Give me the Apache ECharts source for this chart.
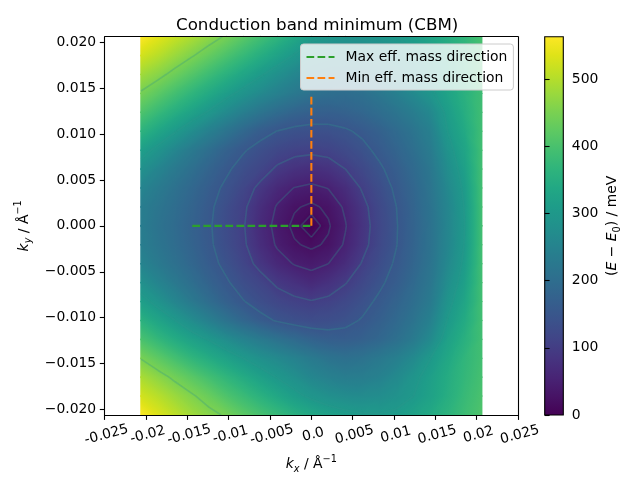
<!DOCTYPE html>
<html>
<head>
<meta charset="utf-8">
<script src="https://cdn.jsdelivr.net/npm/echarts@6.0.0/dist/echarts.min.js"></script>
<style>
html,body{margin:0;padding:0;background:#ffffff;}
#chart{width:640px;height:480px;}
</style>
</head>
<body>
<div id="chart"></div>
<script>
// ---------------- data ----------------
const kx = [-0.0206, -0.01854, -0.01648, -0.01442, -0.01236, -0.0103, -0.00824, -0.00618, -0.00412, -0.00206, 0,
            0.00206, 0.00412, 0.00618, 0.00824, 0.0103, 0.01236, 0.01442, 0.01648, 0.01854, 0.0206];
// rows from top (ky = +0.0206) to bottom (ky = -0.0206)
const ky = [0.0206, 0.01854, 0.01648, 0.01442, 0.01236, 0.0103, 0.00824, 0.00618, 0.00412, 0.00206, 0,
            -0.00206, -0.00412, -0.00618, -0.00824, -0.0103, -0.01236, -0.01442, -0.01648, -0.01854, -0.0206];
// E - E0 in meV, energy[row][col] at (kx[col], ky[row])
const energy = [
  [563, 538, 514, 492, 468, 445, 418, 392, 366, 338, 310, 297, 290, 288, 292, 300, 312, 328, 348, 370, 398],
  [524, 502, 477, 453, 428, 402, 376, 350, 324, 297, 272, 262, 258, 260, 266, 280, 295, 315, 340, 364, 394],
  [483, 462, 436, 410, 384, 358, 331, 305, 279, 258, 240, 232, 230, 234, 244, 262, 280, 303, 332, 360, 392],
  [445, 419, 392, 366, 340, 313, 287, 265, 245, 226, 210, 202, 200, 206, 222, 242, 265, 292, 325, 357, 386],
  [405, 377, 350, 322, 295, 266, 240, 216, 196, 181, 172, 170, 175, 185, 199, 216, 236, 262, 310, 350, 388],
  [362, 332, 303, 272, 243, 215, 188, 165, 149, 140, 137, 138, 145, 157, 173, 193, 215, 243, 300, 340, 388],
  [317, 288, 257, 228, 201, 175, 154, 135, 120, 111, 108, 112, 124, 140, 159, 180, 203, 232, 285, 328, 389],
  [281, 254, 228, 204, 179, 157, 134, 117,  94,  80,  74,  81, 100, 121, 144, 166, 192, 222, 272, 318, 390],
  [254, 231, 209, 187, 165, 142, 118,  91,  65,  49,  43,  51,  72, 104, 131, 157, 184, 216, 262, 308, 390],
  [238, 219, 199, 179, 157, 132, 107,  74,  47,  28,  20,  30,  55,  89, 122, 150, 180, 212, 256, 302, 390],
  [236, 214, 195, 175, 154, 129, 103,  68,  40,  19,   0,  22,  48,  84, 119, 148, 178, 211, 255, 300, 390],
  [238, 218, 198, 178, 156, 131, 106,  73,  46,  28,  20,  29,  54,  88, 121, 149, 179, 211, 256, 302, 390],
  [252, 229, 207, 185, 163, 140, 116,  89,  64,  48,  41,  50,  71, 103, 130, 156, 183, 215, 262, 308, 390],
  [280, 252, 226, 202, 177, 155, 132, 115,  93,  79,  66,  79,  98, 120, 143, 165, 191, 221, 273, 318, 390],
  [315, 286, 255, 226, 199, 173, 152, 133, 118, 108, 102, 108, 121, 138, 157, 178, 201, 230, 287, 330, 390],
  [358, 328, 300, 270, 241, 213, 186, 163, 146, 136, 130, 132, 140, 153, 170, 190, 214, 245, 302, 342, 390],
  [400, 372, 345, 320, 297, 272, 250, 230, 211, 194, 178, 168, 166, 172, 186, 205, 230, 265, 320, 355, 390],
  [448, 421, 394, 368, 345, 322, 300, 280, 264, 248, 230, 214, 207, 212, 226, 242, 265, 300, 335, 368, 391],
  [490, 466, 441, 417, 392, 368, 344, 320, 298, 278, 258, 244, 236, 237, 246, 265, 290, 316, 345, 372, 395],
  [524, 502, 478, 455, 432, 405, 382, 358, 335, 312, 292, 278, 270, 268, 272, 283, 300, 322, 350, 378, 400],
  [560, 533, 507, 482, 462, 445, 420, 398, 377, 356, 338, 322, 311, 304, 303, 308, 322, 340, 362, 385, 405]
];
const contourLevels = [12, 25, 50, 100, 150, 300, 450];
const maxMassKx = [-0.0144, 0];
const maxMassKy = [0, 0];
const minMassKx = [0, 0];
const minMassKy = [0, 0.0144];
const xTicks = [-0.025, -0.02, -0.015, -0.01, -0.005, 0, 0.005, 0.01, 0.015, 0.02, 0.025];
const xTickLabels = ['-0.025', '-0.02', '-0.015', '-0.01', '-0.005', '0.0', '0.005', '0.01', '0.015', '0.02', '0.025'];
const yTicks = [-0.02, -0.015, -0.01, -0.005, 0, 0.005, 0.01, 0.015, 0.02];
const yTickLabels = ['\u22120.020', '\u22120.015', '\u22120.010', '\u22120.005', '0.000', '0.005', '0.010', '0.015', '0.020'];
const cbTicks = [0, 100, 200, 300, 400, 500];
const cbTickLabels = ['0', '100', '200', '300', '400', '500'];
const seriesNames = ['Max eff. mass direction', 'Min eff. mass direction'];

// labels split over two overlaid bottom axes so that none gets auto-hidden
const xTicksEven = xTicks.filter((_, i) => i % 2 === 0);
const xTicksOdd = xTicks.filter((_, i) => i % 2 === 1);

// ---------------- colour map ----------------
const VIRIDIS = ['#440154', '#471365', '#482475', '#463480', '#414487', '#3b528b', '#355f8d', '#2f6c8e', '#2a788e',
  '#25848e', '#21918c', '#1e9c89', '#22a884', '#2fb47c', '#44bf70', '#5ec962', '#7ad151', '#9bd93c', '#bddf26',
  '#dfe318', '#fde725'];
const VIR_RGB = VIRIDIS.map(h => [parseInt(h.slice(1, 3), 16), parseInt(h.slice(3, 5), 16), parseInt(h.slice(5, 7), 16)]);
function cmap(t) {
  t = Math.max(0, Math.min(1, t));
  const s = t * (VIR_RGB.length - 1);
  const i = Math.min(Math.floor(s), VIR_RGB.length - 2);
  const f = s - i, a = VIR_RGB[i], b = VIR_RGB[i + 1];
  return 'rgb(' + [0, 1, 2].map(k => Math.round(a[k] + (b[k] - a[k]) * f)).join(',') + ')';
}
const allE = energy.flat();
const vmin = Math.min.apply(null, allE);
const vmax = Math.max.apply(null, allE);
const norm = v => (v - vmin) / (vmax - vmin);

// ---------------- cell (quad) records built from the arrays ----------------
const quads = [];
for (let r = 0; r < ky.length - 1; r++) {
  for (let c = 0; c < kx.length - 1; c++) {
    quads.push([kx[c], ky[r], kx[c + 1], ky[r + 1],
      energy[r][c], energy[r][c + 1], energy[r + 1][c], energy[r + 1][c + 1]]);
  }
}

function triFill(P, V) {
  const ax = P[1][0] - P[0][0], ay = P[1][1] - P[0][1];
  const bx = P[2][0] - P[0][0], by = P[2][1] - P[0][1];
  const dv1 = V[1] - V[0], dv2 = V[2] - V[0];
  const det = ax * by - ay * bx;
  const lo = Math.min(V[0], V[1], V[2]), hi = Math.max(V[0], V[1], V[2]);
  if (Math.abs(det) < 1e-9 || hi - lo < 1e-9) return cmap(norm(V[0]));
  const gx = (dv1 * by - dv2 * ay) / det;
  const gy = (ax * dv2 - bx * dv1) / det;
  const g2 = gx * gx + gy * gy;
  if (g2 < 1e-12) return cmap(norm(V[0]));
  const span = hi - lo;
  const lo2 = lo - span * 0.15, hi2 = hi + span * 0.15;
  const s0 = (lo2 - V[0]) / g2, s1 = (hi2 - V[0]) / g2;
  const stops = [];
  for (let k = 0; k <= 8; k++) {
    const f = k / 8;
    stops.push({ offset: f, color: cmap(norm(lo2 + f * (hi2 - lo2))) });
  }
  return new echarts.graphic.LinearGradient(
    P[0][0] + gx * s0, P[0][1] + gy * s0, P[0][0] + gx * s1, P[0][1] + gy * s1, stops, true);
}

function corners(api) {
  const x0 = api.value(0), y0 = api.value(1), x1 = api.value(2), y1 = api.value(3);
  return {
    TL: api.coord([x0, y0]), TR: api.coord([x1, y0]), BL: api.coord([x0, y1]), BR: api.coord([x1, y1]),
    vTL: api.value(4), vTR: api.value(5), vBL: api.value(6), vBR: api.value(7)
  };
}

function renderHeat(params, api) {
  const q = corners(api);
  let tris;
  if (Math.abs(q.vTL - q.vBR) <= Math.abs(q.vTR - q.vBL)) {
    tris = [[[q.TL, q.TR, q.BR], [q.vTL, q.vTR, q.vBR]], [[q.TL, q.BR, q.BL], [q.vTL, q.vBR, q.vBL]]];
  } else {
    tris = [[[q.TL, q.TR, q.BL], [q.vTL, q.vTR, q.vBL]], [[q.TR, q.BR, q.BL], [q.vTR, q.vBR, q.vBL]]];
  }
  return {
    type: 'group',
    children: tris.map(t => {
      const fill = triFill(t[0], t[1]);
      return { type: 'polygon', shape: { points: t[0] },
        style: { fill: fill, stroke: fill, lineWidth: 1.6, lineJoin: 'round' } };
    })
  };
}

function renderContours(params, api) {
  const q = corners(api);
  const P = [q.TL, q.TR, q.BR, q.BL], V = [q.vTL, q.vTR, q.vBR, q.vBL];
  const children = [];
  const seg = (a, b) => ({ type: 'line', shape: { x1: a[0], y1: a[1], x2: b[0], y2: b[1] },
    style: { stroke: 'rgba(45,150,140,0.3)', lineWidth: 1.6 } });
  contourLevels.forEach(L => {
    const pts = [];
    for (let e = 0; e < 4; e++) {
      const a = e, b = (e + 1) % 4, va = V[a], vb = V[b];
      if ((va < L && vb >= L) || (va >= L && vb < L)) {
        const f = (L - va) / (vb - va);
        pts.push([P[a][0] + (P[b][0] - P[a][0]) * f, P[a][1] + (P[b][1] - P[a][1]) * f]);
      }
    }
    if (pts.length === 2) children.push(seg(pts[0], pts[1]));
    else if (pts.length === 4) { children.push(seg(pts[0], pts[1])); children.push(seg(pts[2], pts[3])); }
  });
  return { type: 'group', children: children };
}

function renderColorbar(params, api) {
  const p0 = api.coord([api.value(0), api.value(1)]);
  const p1 = api.coord([api.value(2), api.value(3)]);
  const stops = VIRIDIS.map((c, k) => ({ offset: k / (VIRIDIS.length - 1), color: c }));
  return {
    type: 'rect',
    shape: { x: p0[0], y: p1[1], width: p1[0] - p0[0], height: p0[1] - p1[1] },
    style: { fill: new echarts.graphic.LinearGradient(0, 1, 0, 0, stops), stroke: '#000', lineWidth: 1.1 }
  };
}

// ---------------- text styles ----------------
const FONT = 'DejaVu Sans';
const TXT = '#000000';
const FS = 13.9;
const rich = {
  it: { fontFamily: FONT, fontStyle: 'italic', fontSize: FS, color: TXT, lineHeight: 20 },
  n: { fontFamily: FONT, fontSize: FS, color: TXT, lineHeight: 20 },
  sbi: { fontFamily: FONT, fontStyle: 'italic', fontSize: 9.7, color: TXT, lineHeight: 10, verticalAlign: 'bottom' },
  sb: { fontFamily: FONT, fontSize: 9.7, color: TXT, lineHeight: 10, verticalAlign: 'bottom' },
  sp: { fontFamily: FONT, fontSize: 9.7, color: TXT, lineHeight: 10, verticalAlign: 'top' }
};
const lookup = (ticks, labels) => v => {
  const k = ticks.findIndex(t => Math.abs(t - v) < 1e-9);
  return k >= 0 ? labels[k] : '';
};
const axisLineStyle = { color: '#000', width: 1.1 };
const GRID = { left: 104.7, top: 36.7, width: 413.3, height: 378.3 };
const CBGRID = { left: 544.7, top: 36.7, width: 18.6, height: 378.3 };
const xLabelStyle = {
  show: true, formatter: lookup(xTicks, xTickLabels), rotate: 15,
  interval: 0, showMinLabel: true, showMaxLabel: true, hideOverlap: false,
  align: 'center', verticalAlign: 'top', margin: 13,
  fontFamily: FONT, fontSize: FS, color: TXT
};

const option = {
  animation: false,
  backgroundColor: '#ffffff',
  title: {
    text: 'Conduction band minimum (CBM)',
    left: 171, top: 12,
    textStyle: { fontFamily: FONT, fontSize: 16.7, fontWeight: 'normal', color: TXT }
  },
  legend: {
    orient: 'vertical', left: 300.5, top: 44,
    itemWidth: 28, itemHeight: 14, itemGap: 7,
    padding: [6, 6, 5, 5],
    backgroundColor: 'rgba(255,255,255,0.8)', borderColor: '#cccccc', borderWidth: 1, borderRadius: 3,
    textStyle: { fontFamily: FONT, fontSize: FS, color: TXT, padding: [0, 0, 0, 6] },
    itemStyle: { opacity: 0 },
    data: seriesNames,
    z: 20
  },
  grid: [
    Object.assign({ outerBoundsMode: 'none', containLabel: false }, GRID),
    Object.assign({ outerBoundsMode: 'none', containLabel: false }, CBGRID)
  ],
  xAxis: [
    {
      gridIndex: 0, type: 'value', min: -0.025, max: 0.025, position: 'bottom', z: 10,
      axisLine: { show: true, onZero: false, lineStyle: axisLineStyle },
      axisTick: { show: true, inside: false, length: 4.9, lineStyle: axisLineStyle, customValues: xTicksEven },
      axisLabel: Object.assign({ customValues: xTicksEven }, xLabelStyle),
      splitLine: { show: false },
      name: '{it|k}{sbi|x}{n| / \u00c5}{sp|\u22121}', nameLocation: 'middle', nameGap: 39,
      nameTextStyle: { rich: rich }
    },
    {
      gridIndex: 0, type: 'value', min: -0.025, max: 0.025, position: 'top', z: 10,
      axisLine: { show: true, onZero: false, lineStyle: axisLineStyle },
      axisTick: { show: false }, axisLabel: { show: false }, splitLine: { show: false }
    },
    {
      gridIndex: 1, type: 'value', min: 0, max: 1, show: false
    },
    {
      gridIndex: 0, type: 'value', min: -0.025, max: 0.025, position: 'bottom', offset: 0, z: 10,
      axisLine: { show: false, onZero: false },
      axisTick: { show: true, inside: false, length: 4.9, lineStyle: axisLineStyle, customValues: xTicksOdd },
      axisLabel: Object.assign({ customValues: xTicksOdd }, xLabelStyle),
      splitLine: { show: false }
    }
  ],
  yAxis: [
    {
      gridIndex: 0, type: 'value', min: Math.min.apply(null, ky), max: Math.max.apply(null, ky), position: 'left', z: 10,
      axisLine: { show: true, onZero: false, lineStyle: axisLineStyle },
      axisTick: { show: true, inside: false, length: 4.9, lineStyle: axisLineStyle, customValues: yTicks },
      axisLabel: { show: true, customValues: yTicks, formatter: lookup(yTicks, yTickLabels), margin: 8.5,
        showMinLabel: true, showMaxLabel: true,
        fontFamily: FONT, fontSize: FS, color: TXT },
      splitLine: { show: false },
      name: '{it|k}{sbi|y}{n| / \u00c5}{sp|\u22121}', nameLocation: 'middle', nameGap: 70, nameRotate: 90,
      nameTextStyle: { rich: rich }
    },
    {
      gridIndex: 0, type: 'value', min: Math.min.apply(null, ky), max: Math.max.apply(null, ky), position: 'right', z: 10,
      axisLine: { show: true, onZero: false, lineStyle: axisLineStyle },
      axisTick: { show: false }, axisLabel: { show: false }, splitLine: { show: false }
    },
    {
      gridIndex: 1, type: 'value', min: vmin, max: vmax, position: 'right', z: 10,
      axisLine: { show: false },
      axisTick: { show: true, inside: false, length: 4.9, lineStyle: axisLineStyle, customValues: cbTicks },
      axisLabel: { show: true, customValues: cbTicks, formatter: lookup(cbTicks, cbTickLabels), margin: 8.5,
        showMinLabel: true, showMaxLabel: true,
        fontFamily: FONT, fontSize: FS, color: TXT },
      splitLine: { show: false },
      name: '{n|(}{it|E}{n| \u2212 }{it|E}{sb|0}{n|) / meV}', nameLocation: 'middle', nameGap: 39, nameRotate: 90,
      nameTextStyle: { rich: rich }
    }
  ],
  series: [
    {
      type: 'custom', name: 'heat', xAxisIndex: 0, yAxisIndex: 0, z: 1, silent: true,
      dimensions: ['x0', 'y0', 'x1', 'y1', 'vTL', 'vTR', 'vBL', 'vBR'],
      encode: { x: [0, 2], y: [1, 3] },
      renderItem: renderHeat, data: quads
    },
    {
      type: 'custom', name: 'contours', xAxisIndex: 0, yAxisIndex: 0, z: 2, silent: true,
      dimensions: ['x0', 'y0', 'x1', 'y1', 'vTL', 'vTR', 'vBL', 'vBR'],
      encode: { x: [0, 2], y: [1, 3] },
      renderItem: renderContours, data: quads
    },
    {
      type: 'line', name: seriesNames[0], xAxisIndex: 0, yAxisIndex: 0, z: 3,
      data: maxMassKx.map((x, i) => [x, maxMassKy[i]]),
      symbol: 'none', showSymbol: false, color: '#2ca02c',
      lineStyle: { color: '#2ca02c', width: 2.08, type: [7.7, 3.33] }
    },
    {
      type: 'line', name: seriesNames[1], xAxisIndex: 0, yAxisIndex: 0, z: 3,
      data: minMassKx.map((x, i) => [x, minMassKy[i]]),
      symbol: 'none', showSymbol: false, color: '#ff7f0e',
      lineStyle: { color: '#ff7f0e', width: 2.08, type: [7.7, 3.33] }
    },
    {
      type: 'custom', name: 'colorbar', xAxisIndex: 2, yAxisIndex: 2, z: 1, silent: true,
      encode: { x: [0, 2], y: [1, 3] },
      renderItem: renderColorbar, data: [[0, vmin, 1, vmax]]
    }
  ]
};

const chart = echarts.init(document.getElementById('chart'), null, { renderer: 'canvas' });
chart.setOption(option);
</script>
</body>
</html>
